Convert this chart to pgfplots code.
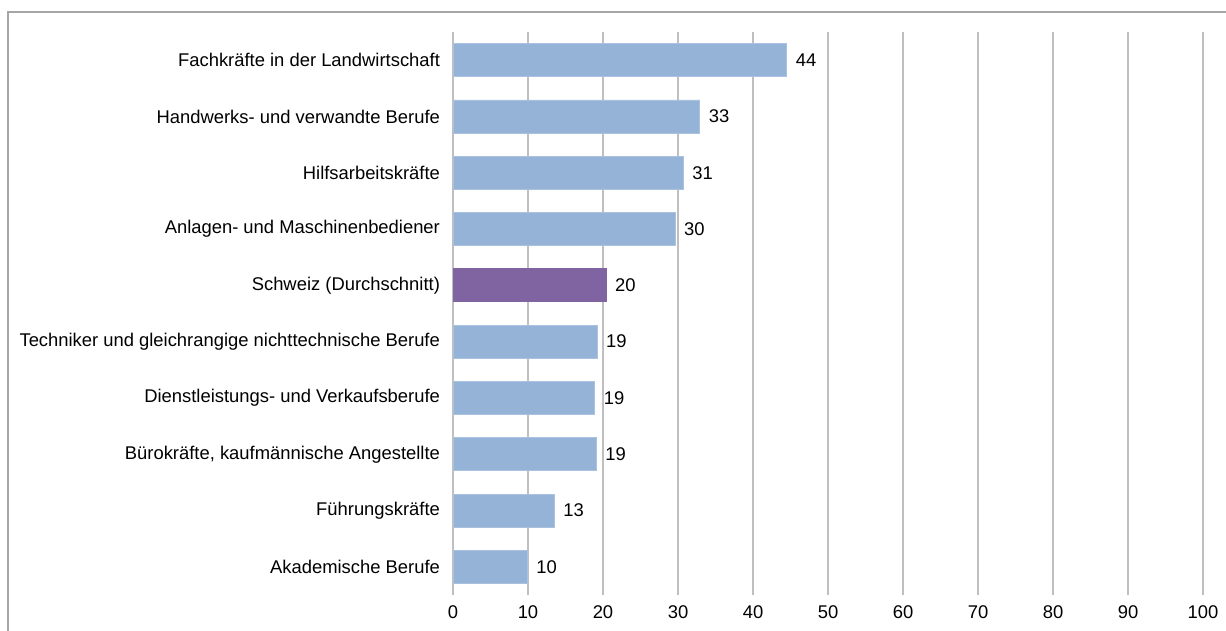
\documentclass[border=0pt]{standalone}
\usepackage{pgfplots}
\pgfplotsset{compat=1.18}
\usepackage{fontspec}
\setmainfont{Liberation Sans}
\definecolor{barblue}{HTML}{95B3D7}
\definecolor{barpurple}{HTML}{8064A2}
\definecolor{gridgray}{HTML}{BFBFBF}
\definecolor{framegray}{HTML}{A6A6A6}
\begin{document}
\begin{tikzpicture}
\useasboundingbox (0pt,0pt) rectangle (613pt,315.5pt);
\draw[framegray, line width=0.6pt] (4pt,-3pt) -- (4pt,309.5pt) -- (620pt,309.5pt);
\begin{axis}[
  at={(226.5pt,18pt)}, anchor=south west,
  scale only axis,
  width=375pt, height=281.5pt,
  xbar, bar width=16.5pt, bar shift=0pt,
  xmin=0, xmax=100, ymin=-0.5, ymax=9.5,
  xtick={0,10,...,100},
  ytick={0,...,9},
  yticklabels={Akademische Berufe, Führungskräfte, {Bürokräfte, kaufmännische Angestellte}, Dienstleistungs- und Verkaufsberufe, Techniker und gleichrangige nichttechnische Berufe, Schweiz (Durchschnitt), Anlagen- und Maschinenbediener, Hilfsarbeitskräfte, Handwerks- und verwandte Berufe, Fachkräfte in der Landwirtschaft},
  axis line style={draw=none},
  major tick length=0pt,
  xmajorgrids, major grid style={gridgray, line width=0.7pt},
  tick label style={font=\fontsize{9.2}{11}\selectfont, text=black},
  /pgf/number format/assume math mode=true,
  xticklabel style={yshift=-2pt},
  yticklabel style={xshift=-3pt},
  point meta=explicit,
  nodes near coords={\pgfmathprintnumber[assume math mode=true]{\pgfplotspointmeta}},
  nodes near coords style={font=\fontsize{9.2}{11}\selectfont, text=black, anchor=west, xshift=1pt},
  clip=false,
]
\addplot[fill=barblue, draw=barblue!80!white, line width=0.4pt] coordinates {
  (9.9,0) [10]
  (13.5,1) [13]
  (19.1,2) [19]
  (18.9,3) [19]
  (19.2,4) [19]
  (29.6,6) [30]
  (30.7,7) [31]
  (32.9,8) [33]
  (44.5,9) [44]
};
\addplot[fill=barpurple, draw=barpurple, line width=0.4pt] coordinates {
  (20.4,5) [20]
};
\end{axis}
\end{tikzpicture}
\end{document}
